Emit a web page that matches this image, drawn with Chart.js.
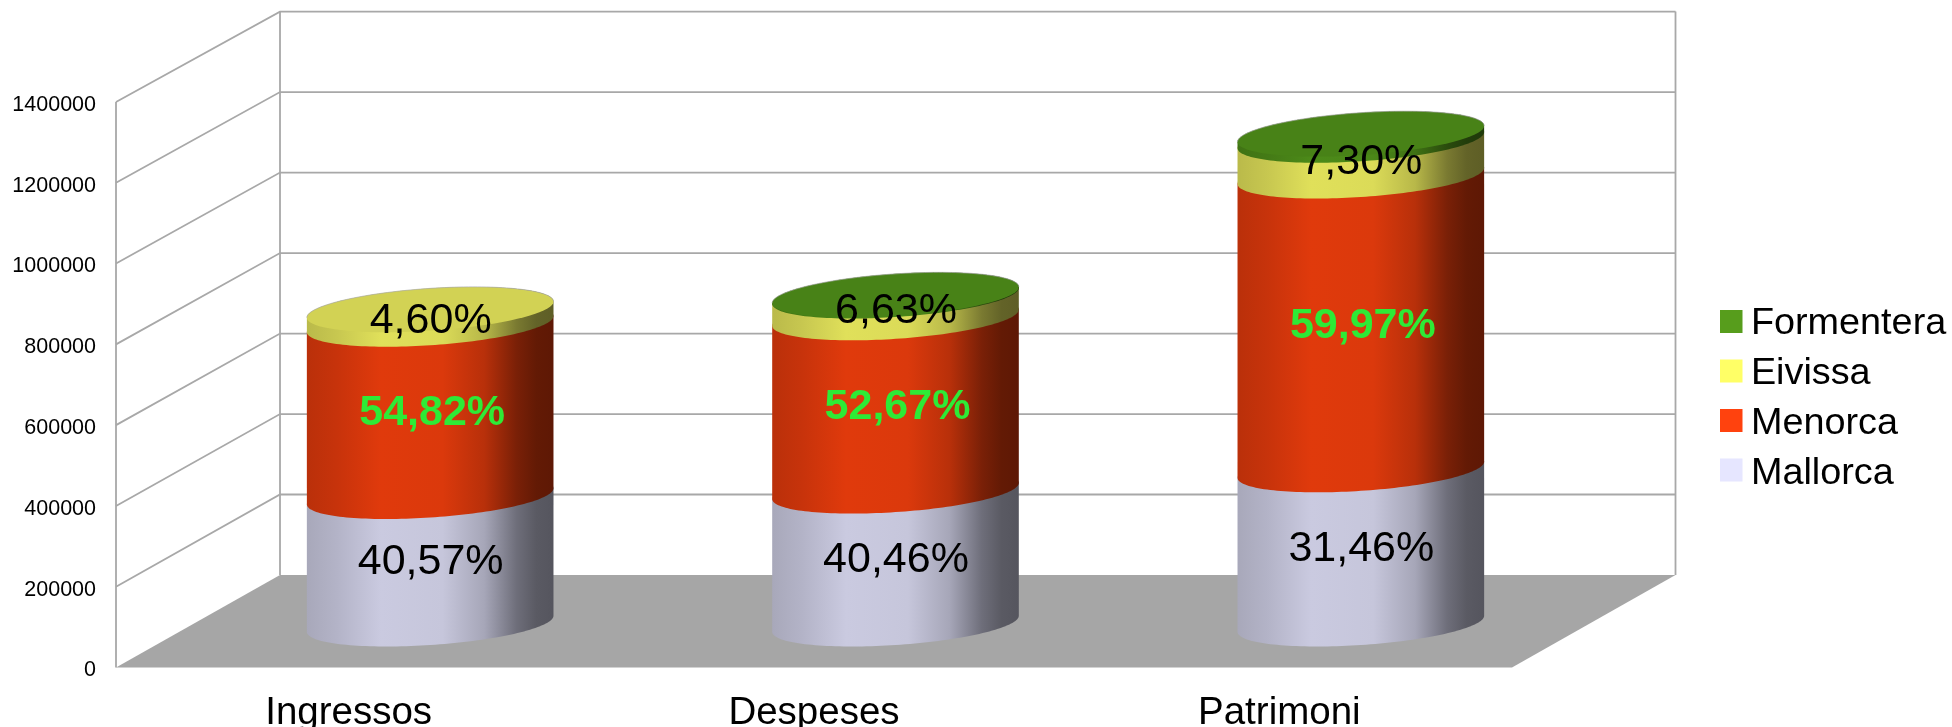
<!DOCTYPE html>
<html>
<head>
<meta charset="utf-8">
<style>html,body{margin:0;padding:0;background:#fff;overflow:hidden}canvas{display:block}</style>
<script src="https://cdn.jsdelivr.net/npm/chart.js@4/dist/chart.umd.js"></script>
</head>
<body>
<canvas id="c" width="1952" height="727" style="width:1952px;height:727px"></canvas>
<script>
const categories = ['Ingressos', 'Despeses', 'Patrimoni'];
const mallorca = [315600, 329000, 381600];
const menorca = [426500, 429000, 727400];
const eivissa = [35800, 54000, 88500];
const formentera = [0, 1900, 15400];
const mallorcaPct = ['40,57%', '40,46%', '31,46%'];
const menorcaPct = ['54,82%', '52,67%', '59,97%'];
const eivissaPct = ['4,60%', '6,63%', '7,30%'];
const axisMax = 1400000;
const axisStep = 200000;

const FONT = '"Liberation Sans", Arial, sans-serif';
const seriesLabels = [mallorcaPct, menorcaPct, eivissaPct, null];
const labelNudge = [2.5, 3, 4.5, 0];
const depthX = 164, depthYBottom = -92.5, depthYTop = -90.4;
const midX = 81.5, midY = -43.7;
const GRID = '#a8a8a8';
const shade = [[0, .73], [.12, .78], [.3, .878], [.55, .86], [.72, .72], [.85, .48], [.93, .39], [1, .37]];

function rgb(hex) {
  const n = parseInt(hex.slice(1), 16);
  return [n >> 16 & 255, n >> 8 & 255, n & 255];
}
function scaled(c, f) {
  return 'rgb(' + c.map(v => Math.round(v * f)).join(',') + ')';
}
// tilted ellipse of a cylinder section
function pt(cx, cy, a, t) {
  const m = a * 0.0655, n = a * 0.172;
  return [cx + a * Math.cos(t), cy - m * Math.cos(t) + n * Math.sin(t)];
}
function arc(ctx, cx, cy, a, from, to, first) {
  const N = 80;
  for (let i = 0; i <= N; i++) {
    const p = pt(cx, cy, a, from + (to - from) * i / N);
    if (i === 0 && first) ctx.moveTo(p[0], p[1]); else ctx.lineTo(p[0], p[1]);
  }
}

const walls = {
  id: 'walls',
  beforeDatasetsDraw(chart) {
    const { ctx, chartArea: ca, scales: { y } } = chart;
    const backY = py => py + depthYBottom + (depthYTop - depthYBottom) * (ca.bottom - py) / (ca.bottom - ca.top);
    const L = ca.left, R = ca.right, bL = L + depthX, bR = R + depthX - 0.5;
    const floorFront = y.getPixelForValue(0), floorBack = backY(floorFront);
    ctx.save();
    ctx.fillStyle = '#a6a6a6';
    ctx.beginPath();
    ctx.moveTo(L, floorFront); ctx.lineTo(bL, floorBack); ctx.lineTo(bR, floorBack); ctx.lineTo(R, floorFront);
    ctx.closePath(); ctx.fill();
    ctx.strokeStyle = GRID; ctx.lineWidth = 1.8;
    y.ticks.forEach(t => {
      if (t.value === 0) return;
      const p = y.getPixelForValue(t.value), q = backY(p);
      ctx.beginPath(); ctx.moveTo(L, p); ctx.lineTo(bL, q); ctx.lineTo(bR, q); ctx.stroke();
    });
    const top = y.getPixelForValue(axisMax);
    ctx.beginPath();
    ctx.moveTo(L, floorFront); ctx.lineTo(L, top);
    ctx.moveTo(bL, floorBack); ctx.lineTo(bL, backY(top));
    ctx.moveTo(bR, floorBack); ctx.lineTo(bR, backY(top));
    ctx.stroke();
    ctx.restore();

    // cylinders, one stacked section at a time, built from the bar elements
    categories.forEach((_, j) => {
      let lastIdx = -1;
      chart.data.datasets.forEach((ds, i) => {
        const bar = chart.getDatasetMeta(i).data[j];
        if (ds.data[j] <= 0) return;
        lastIdx = i;
        const a = bar.width / 2, cx = bar.x + midX;
        const c0 = bar.base + midY, c1 = bar.y + midY;
        const col = rgb(ds.backgroundColor);
        const g = ctx.createLinearGradient(cx - a, 0, cx + a, 0);
        shade.forEach(s => g.addColorStop(s[0], scaled(col, s[1])));
        ctx.fillStyle = g;
        ctx.beginPath();
        arc(ctx, cx, c0, a, 0, Math.PI, true);
        arc(ctx, cx, c1, a, Math.PI, 2 * Math.PI, false);
        ctx.closePath(); ctx.fill();
      });
      if (lastIdx >= 0) {
        const ds = chart.data.datasets[lastIdx];
        const bar = chart.getDatasetMeta(lastIdx).data[j];
        const a = bar.width / 2, cx = bar.x + midX, cy = bar.y + midY;
        ctx.fillStyle = scaled(rgb(ds.backgroundColor), .825);
        ctx.beginPath();
        arc(ctx, cx, cy, a, 0, 2 * Math.PI, true);
        ctx.closePath(); ctx.fill();
        ctx.strokeStyle = 'rgba(170,170,170,.7)'; ctx.lineWidth = 1;
        ctx.beginPath();
        arc(ctx, cx, cy, a, Math.PI, 2 * Math.PI, true);
        ctx.stroke();
      }
    });
  },
  beforeDatasetDraw() { return false; },
  afterDatasetsDraw(chart) {
    const { ctx } = chart;
    ctx.save();
    ctx.textAlign = 'center'; ctx.textBaseline = 'middle';
    chart.data.datasets.forEach((ds, i) => {
      const labels = seriesLabels[i];
      if (!labels) return;
      chart.getDatasetMeta(i).data.forEach((bar, j) => {
        const bold = i === 1;
        ctx.font = (bold ? 'bold ' : '') + '43px ' + FONT;
        ctx.fillStyle = bold ? '#2eea36' : '#000';
        ctx.fillText(labels[j], bar.x + midX + (bold ? 2 : 0.5), (bar.y + bar.base) / 2 + midY + labelNudge[i]);
      });
    });
    ctx.restore();
  }
};

const legendPlace = {
  id: 'legendPlace',
  afterLayout(chart) {
    const l = chart.legend;
    const h = l.height;
    l.left = 1720; l.right = 1952; l.top = 293; l.bottom = 293 + h;
  },
  afterDraw(chart) {
    const { ctx } = chart;
    chart.legend.legendItems.forEach((it, k) => {
      ctx.fillStyle = chart.data.datasets[it.datasetIndex].backgroundColor;
      ctx.fillRect(1720, 310 + k * 49.5, 22.5, 23);
    });
  }
};

new Chart(document.getElementById('c'), {
  type: 'bar',
  data: {
    labels: categories,
    datasets: [
      { label: 'Mallorca', data: mallorca, backgroundColor: '#e6e6ff' },
      { label: 'Menorca', data: menorca, backgroundColor: '#ff420e' },
      { label: 'Eivissa', data: eivissa, backgroundColor: '#ffff66' },
      { label: 'Formentera', data: formentera, backgroundColor: '#579d1c' }
    ]
  },
  plugins: [walls, legendPlace],
  options: {
    responsive: false,
    animation: false,
    devicePixelRatio: 1,
    categoryPercentage: 0.53,
    barPercentage: 1,
    layout: { autoPadding: false, padding: { left: 0, right: 440, top: 102, bottom: 0 } },
    plugins: {
      tooltip: { enabled: false },
      title: { display: false },
      legend: {
        display: true,
        position: 'chartArea',
        align: 'start',
        reverse: true,
        labels: {
          boxWidth: 0,
          padding: 12,
          color: '#000',
          font: { family: FONT, size: 37.8 }
        }
      }
    },
    scales: {
      x: {
        stacked: true,
        grid: { display: false },
        border: { display: false },
        ticks: { padding: 15, color: '#000', maxRotation: 0, font: { family: FONT, size: 38.5 } },
        afterFit(s) { s.height = 59.5; }
      },
      y: {
        stacked: true,
        min: 0,
        max: axisMax,
        grid: { display: false },
        border: { display: false },
        ticks: { stepSize: axisStep, padding: 12, labelOffset: 3, color: '#000', font: { family: FONT, size: 21.5 }, callback: v => String(v) },
        afterFit(s) { s.width = 116; }
      }
    }
  }
});
</script>
</body>
</html>
